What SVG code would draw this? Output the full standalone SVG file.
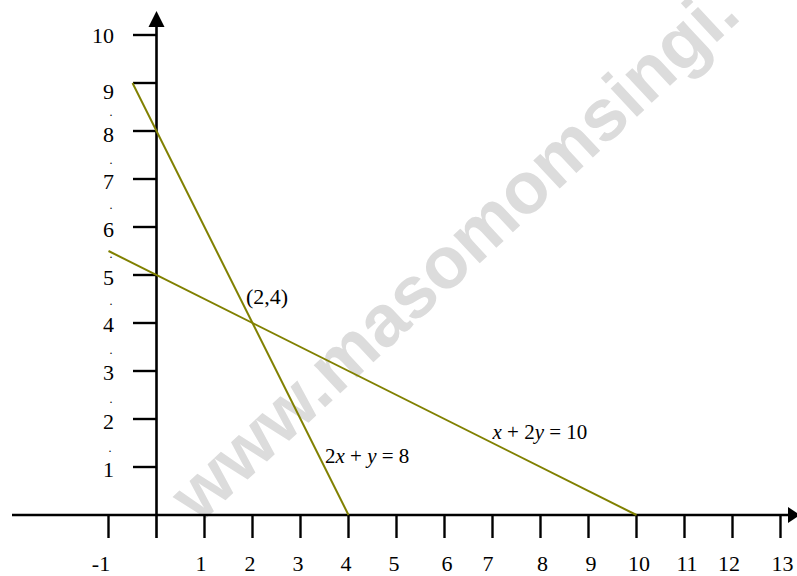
<svg xmlns="http://www.w3.org/2000/svg" width="797" height="576" viewBox="0 0 797 576">
  <style>
    .num { font-family: "Liberation Serif", "Times New Roman", serif; font-size: 22px; fill: #000; }
    .ylab { text-anchor: end; }
    .xlab { text-anchor: middle; }
    .dot { font-family: "Liberation Serif", serif; font-size: 12px; fill: #000; text-anchor: middle; }
    .eq { font-family: "Liberation Serif", "Times New Roman", serif; font-size: 21px; fill: #000; }
    .axis { stroke: #000; stroke-width: 2.6; fill: none; }
    .tick { stroke: #000; stroke-width: 2.4; fill: none; }
    .graph { stroke: #808000; stroke-width: 2; fill: none; }
    .wm { font-family: "Liberation Sans", Arial, sans-serif; font-size: 73px; font-weight: bold; fill: #dcdcdc; }
  </style>
  <rect width="797" height="576" fill="#fff"/>

  <g id="watermark">
    <text class="wm" transform="translate(199,525) rotate(-43)">www.masomomsingi.</text>
  </g>

  <g id="axes">
    <line class="axis" x1="12" y1="515" x2="790" y2="515"/>
    <polygon points="788,507 800,515 788,523" fill="#000"/>
    <line class="axis" x1="156.5" y1="538" x2="156.5" y2="25"/>
    <polygon points="148.5,27 156.5,11 164.5,27" fill="#000"/>
  </g>

  <g id="y-ticks">
    <line class="tick" x1="133" y1="467" x2="156.5" y2="467"/>
    <line class="tick" x1="133" y1="419" x2="156.5" y2="419"/>
    <line class="tick" x1="133" y1="371" x2="156.5" y2="371"/>
    <line class="tick" x1="133" y1="323" x2="156.5" y2="323"/>
    <line class="tick" x1="133" y1="275" x2="156.5" y2="275"/>
    <line class="tick" x1="133" y1="227" x2="156.5" y2="227"/>
    <line class="tick" x1="133" y1="179" x2="156.5" y2="179"/>
    <line class="tick" x1="133" y1="131" x2="156.5" y2="131"/>
    <line class="tick" x1="133" y1="83" x2="156.5" y2="83"/>
    <line class="tick" x1="133" y1="35" x2="156.5" y2="35"/>
  </g>

  <g id="x-ticks">
    <line class="tick" x1="108.5" y1="515" x2="108.5" y2="538"/>
    <line class="tick" x1="204.5" y1="515" x2="204.5" y2="538"/>
    <line class="tick" x1="252.5" y1="515" x2="252.5" y2="538"/>
    <line class="tick" x1="300.5" y1="515" x2="300.5" y2="538"/>
    <line class="tick" x1="348.5" y1="515" x2="348.5" y2="538"/>
    <line class="tick" x1="396.5" y1="515" x2="396.5" y2="538"/>
    <line class="tick" x1="444.5" y1="515" x2="444.5" y2="538"/>
    <line class="tick" x1="492.5" y1="515" x2="492.5" y2="538"/>
    <line class="tick" x1="540.5" y1="515" x2="540.5" y2="538"/>
    <line class="tick" x1="588.5" y1="515" x2="588.5" y2="538"/>
    <line class="tick" x1="636.5" y1="515" x2="636.5" y2="538"/>
    <line class="tick" x1="684.5" y1="515" x2="684.5" y2="538"/>
    <line class="tick" x1="732.5" y1="515" x2="732.5" y2="538"/>
    <line class="tick" x1="780.5" y1="515" x2="780.5" y2="538"/>
  </g>

  <g id="connectors">
    <line id="line-2x-y-8" class="graph" x1="132.5" y1="83" x2="348.5" y2="515"/>
    <line id="line-x-2y-10" class="graph" x1="108.5" y1="251" x2="636.5" y2="515"/>
  </g>

  <g id="y-labels">
    <text class="num ylab" x="114" y="43">10</text>
    <text class="num ylab" x="114" y="99">9</text>
    <text class="num ylab" x="114" y="142">8</text>
    <text class="num ylab" x="114" y="189">7</text>
    <text class="num ylab" x="114" y="237">6</text>
    <text class="num ylab" x="114" y="285">5</text>
    <text class="num ylab" x="114" y="332">4</text>
    <text class="num ylab" x="114" y="380">3</text>
    <text class="num ylab" x="114" y="429">2</text>
    <text class="num ylab" x="114" y="477">1</text>
    <text class="dot" x="111" y="116">.</text>
    <text class="dot" x="111" y="164">.</text>
    <text class="dot" x="111" y="209">.</text>
    <text class="dot" x="111" y="258">.</text>
    <text class="dot" x="111" y="305">.</text>
    <text class="dot" x="111" y="354">.</text>
    <text class="dot" x="111" y="403">.</text>
    <text class="dot" x="110" y="452">.</text>
  </g>

  <g id="x-labels">
    <text class="num xlab" x="101" y="571">-1</text>
    <text class="num xlab" x="201" y="571">1</text>
    <text class="num xlab" x="250" y="571">2</text>
    <text class="num xlab" x="298" y="571">3</text>
    <text class="num xlab" x="346" y="571">4</text>
    <text class="num xlab" x="394" y="571">5</text>
    <text class="num xlab" x="447" y="571">6</text>
    <text class="num xlab" x="488" y="571">7</text>
    <text class="num xlab" x="542.5" y="571">8</text>
    <text class="num xlab" x="591" y="571">9</text>
    <text class="num xlab" x="639" y="571">10</text>
    <text class="num xlab" x="687" y="571">11</text>
    <text class="num xlab" x="729" y="571">12</text>
    <text class="num xlab" x="782.5" y="571">13</text>
  </g>

  <g id="point-label">
    <text class="num" x="246" y="304">(2,4)</text>
  </g>

  <g id="eq-labels">
    <text class="eq" x="325" y="463">2<tspan font-style="italic">x</tspan> + <tspan font-style="italic">y</tspan> = 8</text>
    <text class="eq" x="492.5" y="438.5"><tspan font-style="italic">x</tspan> + 2<tspan font-style="italic">y</tspan> = 10</text>
  </g>
</svg>
